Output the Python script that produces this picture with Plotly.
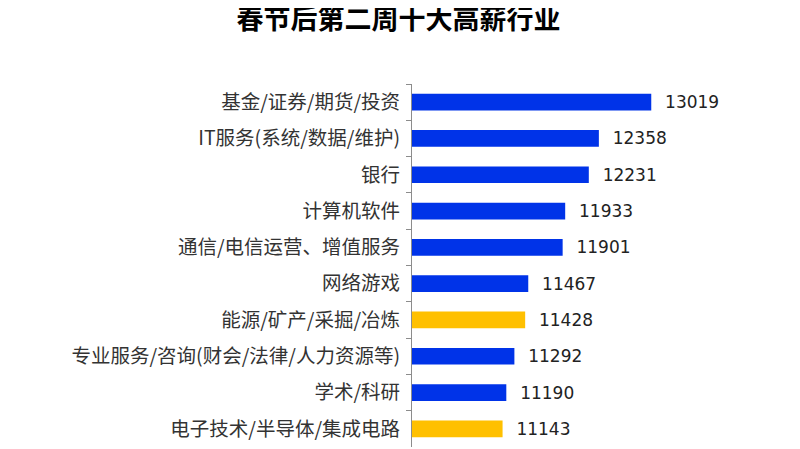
import plotly.graph_objects as go

categories = ["基金/证券/期货/投资", "IT服务(系统/数据/维护)", "银行", "计算机软件",
              "通信/电信运营、增值服务", "网络游戏", "能源/矿产/采掘/冶炼",
              "专业服务/咨询(财会/法律/人力资源等)", "学术/科研", "电子技术/半导体/集成电路"]
values = [13019, 12358, 12231, 11933, 11901, 11467, 11428, 11292, 11190, 11143]
colors = ["#0033E8", "#0033E8", "#0033E8", "#0033E8", "#0033E8", "#0033E8",
          "#FFC000", "#0033E8", "#0033E8", "#FFC000"]

fig = go.Figure()
fig.add_trace(go.Bar(
    x=values, y=categories, orientation="h",
    marker=dict(color=colors, line=dict(width=0)),
    width=0.46,
    text=[f"  {v}" for v in values], textposition="outside",
    constraintext="none",
    textfont=dict(family="DejaVu Sans", size=17, color="#222222"),
    cliponaxis=False,
))

fig.update_layout(
    width=800, height=449,
    margin=dict(l=404, r=79, t=76, b=10),
    paper_bgcolor="white", plot_bgcolor="white",
    title=dict(text="<b>春节后第二周十大高薪行业</b>", x=0.488, xanchor="center",
               y=0.975, yanchor="middle",
               font=dict(family="Noto Sans CJK SC", size=27, color="#000000")),
    showlegend=False,
    font=dict(family="Noto Sans CJK SC"),
)
fig.update_xaxes(range=[10000, 14000], visible=False)
fig.update_yaxes(
    autorange="reversed", type="category", automargin=False,
    showline=True, linecolor="#8C8C8C", linewidth=1,
    ticks="outside", ticklen=5, tickcolor="#8C8C8C", tickson="boundaries",
    ticklabelstandoff=7,
    tickfont=dict(family="Noto Sans CJK SC", size=19.5, color="#333333"),
    showgrid=False,
)

fig.write_html("out.html")
